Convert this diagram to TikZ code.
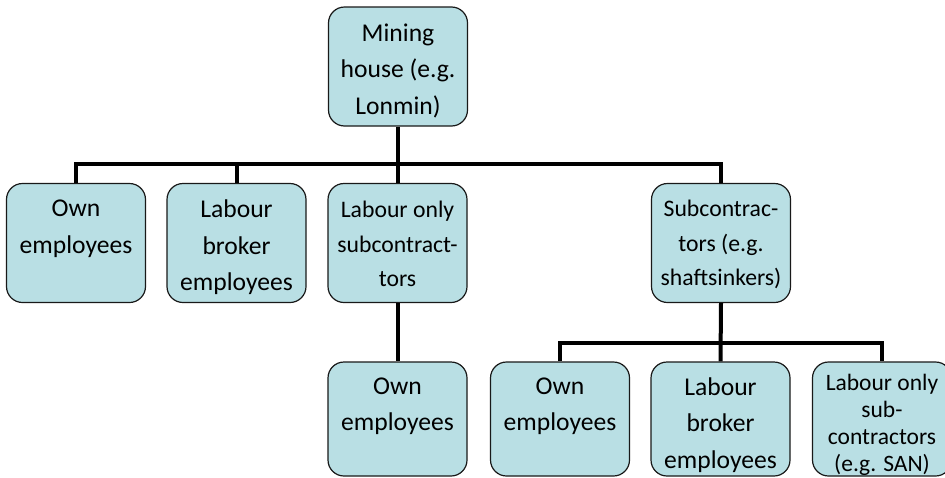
\documentclass[tikz,border=0pt]{standalone}
\usepackage{fontspec}
\setmainfont{Carlito}
\definecolor{boxfill}{RGB}{185,223,228}
\begin{document}
\begin{tikzpicture}[x=1pt,y=-1pt,
  box/.style={draw=black!90, line width=1.2pt, fill=boxfill, rounded corners=16pt,
    minimum width=139pt, minimum height=119pt, inner sep=0pt},
  lowbox/.style={box, minimum height=114pt},
  lbl/.style={anchor=north, align=center, inner sep=0pt, font=\fontsize{25.6}{36.5}\selectfont},
  lblmid/.style={lbl, font=\fontsize{23.7}{34.5}\selectfont},
  lblsmall/.style={lbl, font=\fontsize{23.5}{26.7}\selectfont},
  conn/.style={line width=4pt}]
\useasboundingbox (0,0) rectangle (945,477);

% boxes
\node[box] (m) at (398,66.5) {};
\node[box] (a1) at (76,243) {};
\node[box] (a2) at (236.5,243) {};
\node[box] (a3) at (397.5,243) {};
\node[box] (a4) at (721,243) {};
\node[lowbox] (b1) at (397.5,419) {};
\node[lowbox] (b2) at (560,419) {};
\node[lowbox] (b3) at (720.5,419) {};
\node[lowbox] (b4) at (882,419) {};

% texts
\node[lbl] (mt) at ([yshift=-17pt]m.north) {Mining\\house (e.g.\\Lonmin)};
\node[lbl] (a1t) at ([yshift=-17pt]a1.north) {Own\\employees};
\node[lbl] (a2t) at ([yshift=-17pt]a2.north) {Labour\\broker\\employees};
\node[lblmid] (a3t) at ([yshift=-18pt]a3.north) {Labour only\\subcontract-\\tors};
\node[lblmid] (a4t) at ([yshift=-17pt]a4.north) {Subcontrac-\\tors (e.g.\\shaftsinkers)};
\node[lbl] (b1t) at ([yshift=-16pt]b1.north) {Own\\employees};
\node[lbl] (b2t) at ([yshift=-16pt]b2.north) {Own\\employees};
\node[lbl] (b3t) at ([yshift=-16pt]b3.north) {Labour\\broker\\employees};
\node[lblsmall] (b4t) at ([yshift=-13pt]b4.north) {Labour only\\sub-\\contractors\\(e.g. SAN)};

% connectors
\coordinate (j1) at (398,164);
\coordinate (j2) at (721,343);
\draw[conn] (m.south) -- (j1);
\draw[conn] (a1.north) -- (a1.north |- j1) -- (a4.north |- j1) -- (a4.north);
\draw[conn] (a2.north) -- (a2.north |- j1);
\draw[conn] (a3.north) -- (a3.north |- j1);
\draw[conn] (a3.south) -- (b1.north);
\draw[conn] (a4.south) -- (b3.north);
\draw[conn] (b2.north) -- (b2.north |- j2) -- (b4.north |- j2) -- (b4.north);
\end{tikzpicture}
\end{document}
